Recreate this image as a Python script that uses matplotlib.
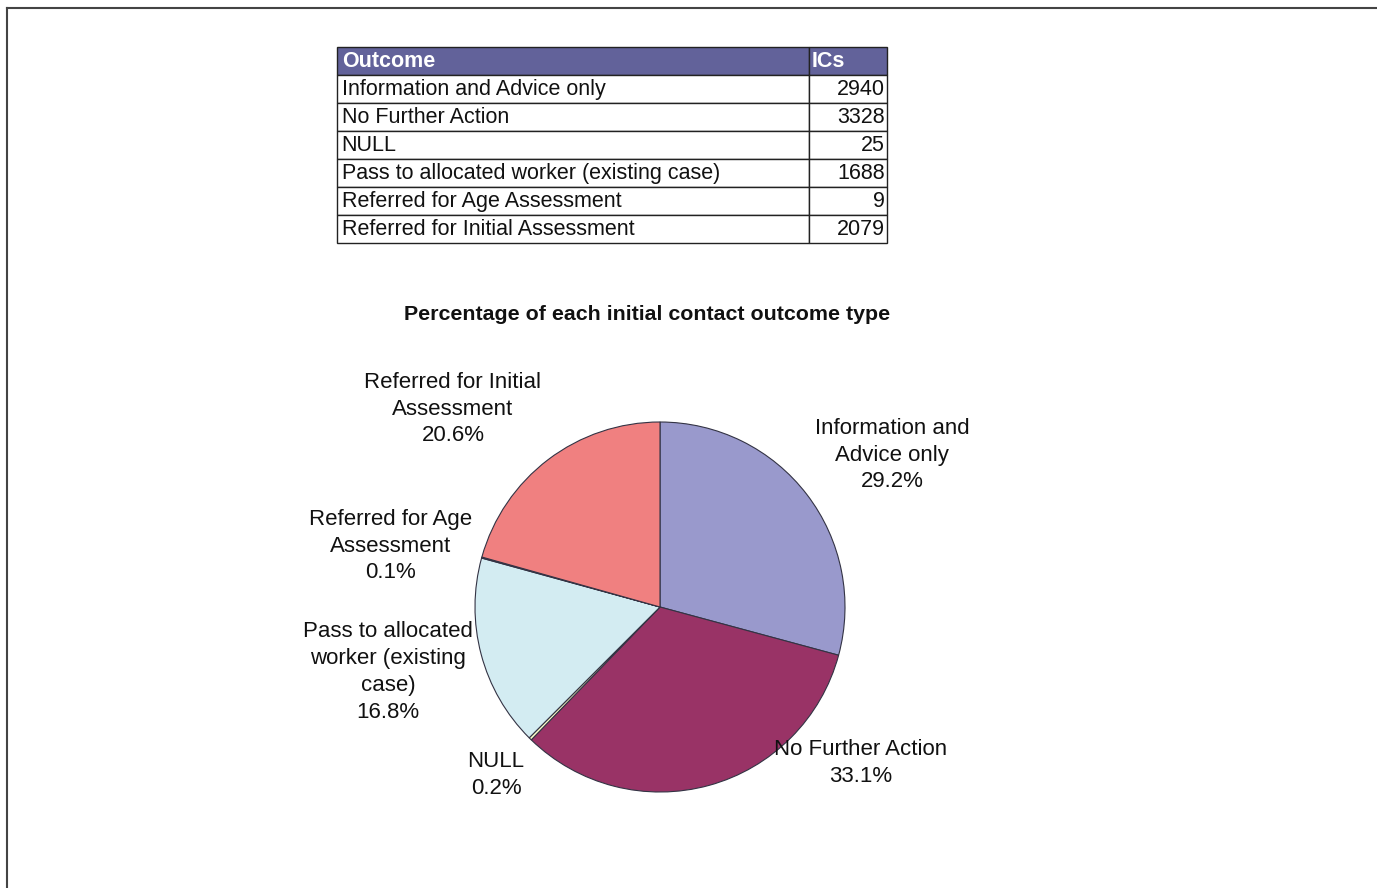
import matplotlib
matplotlib.use('Agg')
import matplotlib.pyplot as plt
from matplotlib.lines import Line2D

plt.rcParams['font.family'] = ['Liberation Sans', 'DejaVu Sans']

# ==================== 数据 ====================
outcomes = ['Information and Advice only', 'No Further Action', 'NULL',
            'Pass to allocated worker (existing case)',
            'Referred for Age Assessment', 'Referred for Initial Assessment']
ics = [2940, 3328, 25, 1688, 9, 2079]
pie_labels = ['Information and\nAdvice only', 'No Further Action', 'NULL',
              'Pass to allocated\nworker (existing\ncase)',
              'Referred for Age\nAssessment', 'Referred for Initial\nAssessment']
colors = ['#9999CC', '#993366', '#FFFFCC', '#D3ECF2', '#1F1F6E', '#F08080']

W, H = 1377, 888
fig = plt.figure(figsize=(W / 100, H / 100), dpi=100)

def fx(px):
    return px / W

def fy(py):
    return 1 - py / H

# 外框 (上、左)
fig.add_artist(Line2D([fx(7), 1], [fy(8), fy(8)], color='#444444', lw=1.5))
fig.add_artist(Line2D([fx(7), fx(7)], [fy(8), 0], color='#444444', lw=1.5))

# ==================== 表格 ====================
tx0, tx1, ty0, ty1 = 337, 887, 47, 243
tax = fig.add_axes([fx(tx0), fy(ty1), fx(tx1 - tx0), (ty1 - ty0) / H])
tax.axis('off')
cell_text = [[o, str(v)] for o, v in zip(outcomes, ics)]
tbl = tax.table(cellText=cell_text, colLabels=['Outcome', 'ICs'],
                colWidths=[472, 78], bbox=[0, 0, 1, 1])
tbl.auto_set_font_size(False)
for (r, c), cell in tbl.get_celld().items():
    cell.set_edgecolor('#222222')
    cell.set_linewidth(1.0)
    cell.PAD = 0.01 if c == 0 else 0.03
    txt = cell.get_text()
    txt.set_fontsize(15.5)
    if r == 0:
        cell.set_facecolor('#62629A')
        txt.set_color('white')
        txt.set_fontweight('bold')
        txt.set_ha('left')
    else:
        txt.set_color('#111111')
        txt.set_ha('left' if c == 0 else 'right')

# ==================== 标题 ====================
fig.text(fx(647), fy(314), 'Percentage of each initial contact outcome type',
         ha='center', va='center', fontsize=15.4, fontweight='bold', color='#111111')

# ==================== 饼图 ====================
cx, cy, rad = 660, 607, 185
pax = fig.add_axes([fx(cx - rad), fy(cy + rad), fx(2 * rad), 2 * rad / H])
pax.pie(ics, colors=colors, startangle=90, counterclock=False, radius=1,
        wedgeprops=dict(edgecolor='#333344', linewidth=0.8))
pax.set_xlim(-1, 1)
pax.set_ylim(-1, 1)
pax.set_aspect('auto')
pax.axis('off')

total = sum(ics)
label_pos = [(892, 455), (861, 763), (496, 775), (388, 672), (391, 546), (453, 409)]
for lab, v, (px, py) in zip(pie_labels, ics, label_pos):
    fig.text(fx(px), fy(py), f'{lab}\n{v / total * 100:.1f}%', ha='center', va='center',
             fontsize=16, color='#111111', linespacing=1.37)

plt.savefig('out.png', dpi=100)
